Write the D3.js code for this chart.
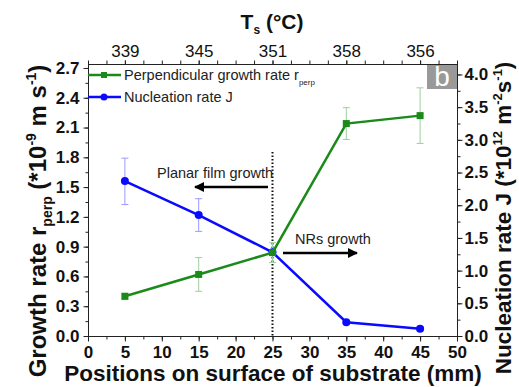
<!DOCTYPE html>
<html><head><meta charset="utf-8">
<script src="https://cdn.jsdelivr.net/npm/d3@7"></script>
<style>body{margin:0;background:#fff}svg{font-family:"Liberation Sans",Arial,sans-serif}</style>
</head><body>
<svg id="c" width="519" height="387"></svg>
<script>
const positions = [5, 15, 25, 35, 45];
const topTickLabels = ["339", "345", "351", "358", "356"];
const growthRate = [0.40, 0.62, 0.84, 2.14, 2.22];
const growthErrLow = [0.37, 0.45, 0.74, 1.98, 1.94];
const growthErrHigh = [0.43, 0.79, 0.94, 2.30, 2.50];
const nucleation = [2.37, 1.85, 1.28, 0.21, 0.11];
const nucErrLow = [2.01, 1.60, 1.25, 0.18, 0.08];
const nucErrHigh = [2.72, 2.10, 1.31, 0.24, 0.14];
const leftTicks = [0, 0.3, 0.6, 0.9, 1.2, 1.5, 1.8, 2.1, 2.4, 2.7];
const rightTicks = [0, 0.5, 1.0, 1.5, 2.0, 2.5, 3.0, 3.5, 4.0];
const bottomTicks = [0, 5, 10, 15, 20, 25, 30, 35, 40, 45, 50];

const green = "#1a8a1a", blue = "#0a0aff";
const greenErr = "#9fcf9f", blueErr = "#9a9aff";

const svg = d3.select("#c");
const L = 88, R = 457, T = 64, B = 336;
const x = d3.scaleLinear().domain([0, 50]).range([L, R]);
const yL = d3.scaleLinear().domain([0, 2.74]).range([B, T]);
const yR = d3.scaleLinear().domain([0, 4.16]).range([B, T]);

// frame lines
const axG = svg.append("g").attr("stroke", "#222").attr("stroke-width", 1);
axG.append("line").attr("x1", L).attr("x2", R).attr("y1", B + 0.5).attr("y2", B + 0.5);
axG.append("line").attr("x1", L).attr("x2", R).attr("y1", T + 0.5).attr("y2", T + 0.5);
axG.append("line").attr("x1", L + 0.5).attr("x2", L + 0.5).attr("y1", T).attr("y2", B + 1);
axG.append("line").attr("x1", R + 0.5).attr("x2", R + 0.5).attr("y1", T).attr("y2", B + 1);

function styleAxis(g, bold, size) {
  g.select(".domain").remove();
  g.selectAll(".tick line").attr("stroke", "#222");
  g.selectAll(".tick text").attr("font-size", size).attr("font-weight", bold ? "bold" : "normal")
    .attr("fill", "#111").attr("font-family", "'Liberation Sans',Arial,sans-serif");
}
// minor ticks
const minorX = d3.range(0, 50.01, 2.5);
const minorL = d3.range(0, 2.701, 0.15);
const minorR = d3.range(0, 4.01, 0.25);
svg.append("g").attr("transform", `translate(0,${B + 0.5})`)
  .call(d3.axisBottom(x).tickValues(minorX).tickSize(3).tickFormat(""))
  .call(g => styleAxis(g, true, 17));
svg.append("g").attr("transform", `translate(0,${B + 0.5})`)
  .call(d3.axisBottom(x).tickValues(bottomTicks).tickSize(5).tickPadding(4).tickFormat(d3.format("d")))
  .call(g => styleAxis(g, true, 17));
svg.append("g").attr("transform", `translate(0,${T + 0.5})`)
  .call(d3.axisTop(x).tickValues(minorX).tickSize(4).tickFormat(""))
  .call(g => styleAxis(g, false, 17));
svg.append("g").attr("transform", `translate(0,${T + 0.5})`)
  .call(d3.axisTop(x).tickValues(positions).tickSize(4).tickPadding(4).tickFormat((d, i) => topTickLabels[i]))
  .call(g => styleAxis(g, false, 17));
svg.append("g").attr("transform", `translate(${L + 0.5},0)`)
  .call(d3.axisLeft(yL).tickValues(minorL).tickSize(3).tickFormat(""))
  .call(g => styleAxis(g, true, 17));
svg.append("g").attr("transform", `translate(${L + 0.5},0)`)
  .call(d3.axisLeft(yL).tickValues(leftTicks).tickSize(5).tickPadding(4).tickFormat(d3.format(".1f")))
  .call(g => styleAxis(g, true, 17));
svg.append("g").attr("transform", `translate(${R + 0.5},0)`)
  .call(d3.axisRight(yR).tickValues(minorR).tickSize(3).tickFormat(""))
  .call(g => styleAxis(g, true, 17));
svg.append("g").attr("transform", `translate(${R + 0.5},0)`)
  .call(d3.axisRight(yR).tickValues(rightTicks).tickSize(5).tickPadding(2).tickFormat(d3.format(".1f")))
  .call(g => styleAxis(g, true, 17));

// dotted vertical line
svg.append("line").attr("x1", x(25)).attr("x2", x(25)).attr("y1", 152).attr("y2", B)
  .attr("stroke", "#111").attr("stroke-width", 2).attr("stroke-dasharray", "1.5,2");

// error bars
function errBars(lo, hi, scale, color) {
  const g = svg.append("g").attr("stroke", color).attr("stroke-width", 1);
  positions.forEach((p, i) => {
    const xx = x(p);
    g.append("line").attr("x1", xx).attr("x2", xx).attr("y1", scale(lo[i])).attr("y2", scale(hi[i]));
    g.append("line").attr("x1", xx - 3.5).attr("x2", xx + 3.5).attr("y1", scale(lo[i])).attr("y2", scale(lo[i]));
    g.append("line").attr("x1", xx - 3.5).attr("x2", xx + 3.5).attr("y1", scale(hi[i])).attr("y2", scale(hi[i]));
  });
}
errBars(growthErrLow, growthErrHigh, yL, greenErr);
errBars(nucErrLow, nucErrHigh, yR, blueErr);

// lines
svg.append("path").datum(nucleation)
  .attr("d", d3.line().x((d, i) => x(positions[i])).y(d => yR(d)))
  .attr("fill", "none").attr("stroke", blue).attr("stroke-width", 2.5);
svg.selectAll(".nc").data(nucleation).join("circle")
  .attr("cx", (d, i) => x(positions[i])).attr("cy", d => yR(d)).attr("r", 4).attr("fill", blue);
svg.append("path").datum(growthRate)
  .attr("d", d3.line().x((d, i) => x(positions[i])).y(d => yL(d)))
  .attr("fill", "none").attr("stroke", green).attr("stroke-width", 2.5);
svg.selectAll(".gs").data(growthRate).join("rect")
  .attr("x", (d, i) => x(positions[i]) - 3.5).attr("y", d => yL(d) - 3.5)
  .attr("width", 7).attr("height", 7).attr("fill", green);

// arrows
const defs = svg.append("defs");
defs.append("marker").attr("id", "ah").attr("viewBox", "0 0 10 10").attr("refX", 9).attr("refY", 5)
  .attr("markerWidth", 18).attr("markerHeight", 10).attr("markerUnits", "userSpaceOnUse")
  .attr("orient", "auto")
  .append("path").attr("d", "M0,0 L10,5 L0,10 Z").attr("fill", "#000");
svg.append("line").attr("x1", 268).attr("x2", 195).attr("y1", 187).attr("y2", 187)
  .attr("stroke", "#000").attr("stroke-width", 2.5).attr("marker-end", "url(#ah)");
svg.append("line").attr("x1", 283).attr("x2", 357).attr("y1", 253).attr("y2", 253)
  .attr("stroke", "#000").attr("stroke-width", 2.5).attr("marker-end", "url(#ah)");
svg.append("text").attr("x", 157).attr("y", 178).attr("font-size", 14.5).attr("fill", "#222").text("Planar film growth");
svg.append("text").attr("x", 295).attr("y", 244).attr("font-size", 14.5).attr("fill", "#222").text("NRs growth");

// legend
svg.append("line").attr("x1", L).attr("x2", 121).attr("y1", 75).attr("y2", 75).attr("stroke", green).attr("stroke-width", 2.5);
svg.append("rect").attr("x", 101).attr("y", 72).attr("width", 6).attr("height", 6).attr("fill", green);
svg.append("line").attr("x1", L).attr("x2", 121).attr("y1", 97).attr("y2", 97).attr("stroke", blue).attr("stroke-width", 2.5);
svg.append("circle").attr("cx", 104).attr("cy", 97).attr("r", 3.5).attr("fill", blue);
const lt1 = svg.append("text").attr("x", 124).attr("y", 80).attr("font-size", 14.5).attr("fill", "#222");
lt1.append("tspan").text("Perpendicular growth rate  r");
lt1.append("tspan").attr("font-size", 8).attr("dy", 5).text("perp");
svg.append("text").attr("x", 124).attr("y", 102).attr("font-size", 14.5).attr("fill", "#222").text("Nucleation rate J");

// b label box
svg.append("rect").attr("x", 427).attr("y", T + 1).attr("width", 30).attr("height", 24).attr("fill", "#999");
svg.append("text").attr("x", 442).attr("y", T + 22).attr("text-anchor", "middle").attr("font-size", 28).attr("fill", "#fff").text("b");

// titles
const tt = svg.append("text").attr("x", 272).attr("y", 29).attr("text-anchor", "middle")
  .attr("font-size", 21).attr("font-weight", "bold").attr("fill", "#111");
tt.append("tspan").text("T");
tt.append("tspan").attr("font-size", 12).attr("dy", 5).text("s");
tt.append("tspan").attr("dy", -5).text(" (°C)");

svg.append("text").attr("x", 273).attr("y", 381).attr("text-anchor", "middle")
  .attr("font-size", 22.5).attr("font-weight", "bold").attr("fill", "#111")
  .text("Positions on surface of substrate (mm)");

const ly = svg.append("text").attr("transform", "translate(46,221) rotate(-90)").attr("text-anchor", "middle")
  .attr("font-size", 24).attr("font-weight", "bold").attr("fill", "#111");
ly.append("tspan").text("Growth rate r");
ly.append("tspan").attr("font-size", 14).attr("dy", 6).text("perp");
ly.append("tspan").attr("dy", -6).text(" (*10");
ly.append("tspan").attr("font-size", 14).attr("dy", -10).text("-9");
ly.append("tspan").attr("dy", 10).text(" m s");
ly.append("tspan").attr("font-size", 14).attr("dy", -10).text("-1");
ly.append("tspan").attr("dy", 10).text(")");

const ry = svg.append("text").attr("transform", "translate(511,218) rotate(-90)").attr("text-anchor", "middle")
  .attr("font-size", 22.5).attr("font-weight", "bold").attr("fill", "#111");
ry.append("tspan").text("Nucleation rate J (*10");
ry.append("tspan").attr("font-size", 13).attr("dy", -9).text("12");
ry.append("tspan").attr("dy", 9).text(" m");
ry.append("tspan").attr("font-size", 13).attr("dy", -9).text("-2");
ry.append("tspan").attr("dy", 9).text("s");
ry.append("tspan").attr("font-size", 13).attr("dy", -9).text("-1");
ry.append("tspan").attr("dy", 9).text(")");
</script>
</body></html>
